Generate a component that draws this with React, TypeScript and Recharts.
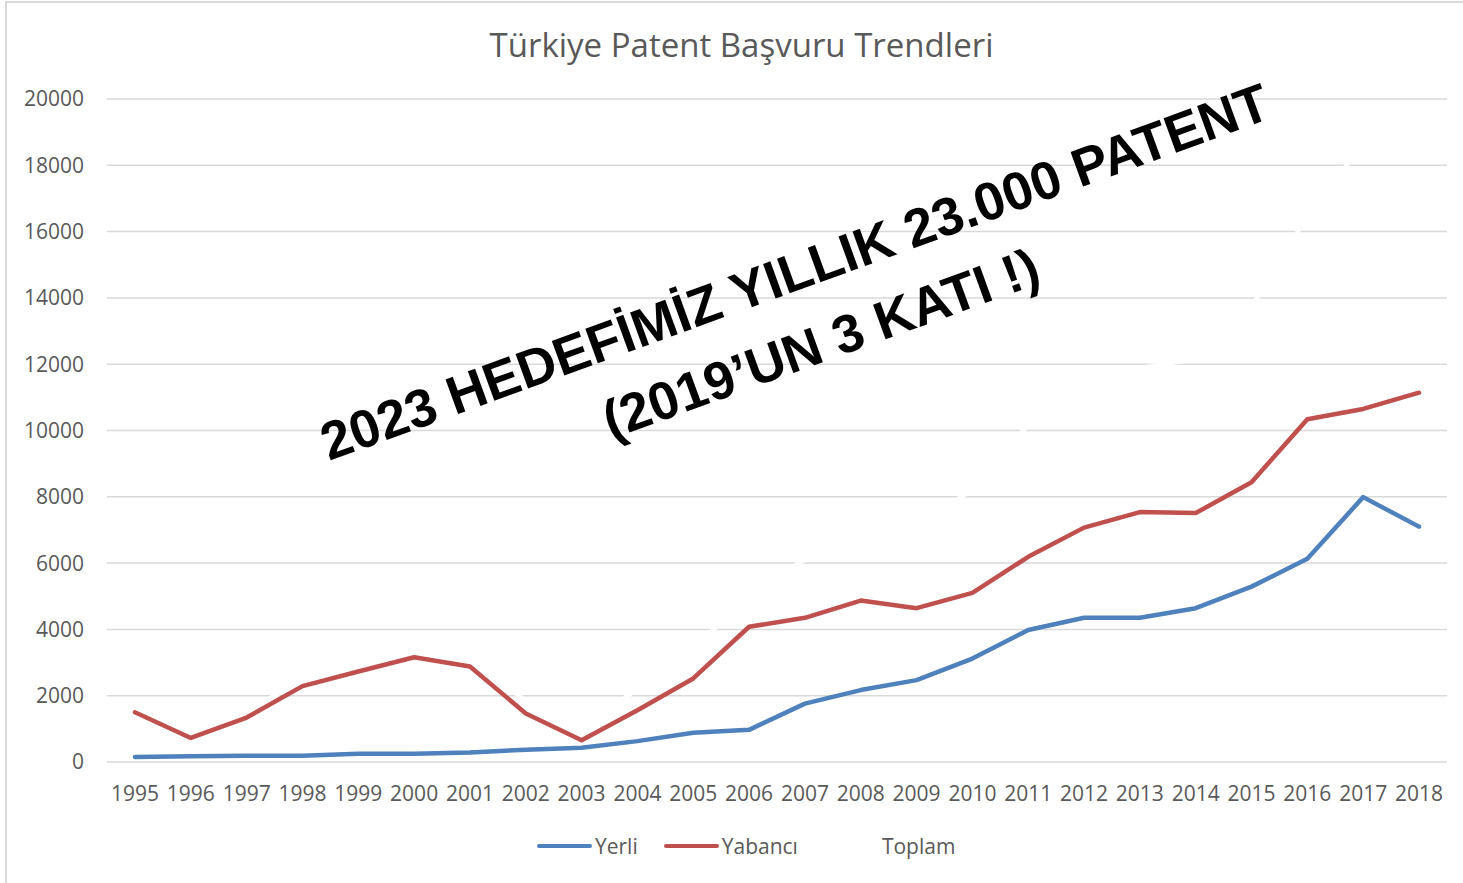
import { LineChart, Line, XAxis, YAxis, CartesianGrid } from "recharts";

// yearly patent applications
const years = [
  "1995", "1996", "1997", "1998", "1999", "2000", "2001", "2002", "2003", "2004", "2005", "2006",
  "2007", "2008", "2009", "2010", "2011", "2012", "2013", "2014", "2015", "2016", "2017", "2018",
];
const yerli = [
  150, 170, 185, 190, 250, 250, 290, 370, 430, 630, 880, 970,
  1760, 2170, 2470, 3120, 3980, 4350, 4350, 4640, 5290, 6130, 7990, 7100,
];
const yabanci = [
  1500, 725, 1340, 2290, 2730, 3160, 2880, 1465, 655, 1560, 2520, 4080,
  4350, 4870, 4640, 5100, 6190, 7070, 7540, 7510, 8440, 10340, 10650, 11140,
];
// Toplam is drawn in white in the original (only visible where it cuts the gridlines)
const toplam = [
  1650, 895, 1525, 2480, 2980, 3410, 3170, 1835, 1085, 2190, 3400, 5050,
  6110, 7040, 7110, 8220, 10170, 11420, 11890, 12150, 13730, 16470, 18640, 18240,
];
const yTicks = [0, 2000, 4000, 6000, 8000, 10000, 12000, 14000, 16000, 18000, 20000];

const chartData = years.map((year, i) => ({
  year,
  Yerli: yerli[i],
  Yabancı: yabanci[i],
  Toplam: toplam[i],
}));

const BLUE = "#4f81bd";
const RED = "#c0504d";
const GREY = "#595959";
const FONT = "'Open Sans', sans-serif";

const legendItems = [
  { name: "Yerli", color: BLUE },
  { name: "Yabancı", color: RED },
  { name: "Toplam", color: "#ffffff" },
];

export default function App() {
  return (
    <div
      style={{
        position: "absolute",
        top: 0,
        left: 0,
        width: 1463,
        height: 883,
        background: "#fff",
        overflow: "hidden",
        fontFamily: FONT,
      }}
    >
      {/* chart frame (only left/top edges show) */}
      <div
        style={{
          position: "absolute",
          left: 5,
          top: 1,
          width: 1500,
          height: 950,
          borderLeft: "2px solid #d9d9d9",
          borderTop: "2px solid #d9d9d9",
        }}
      />

      <div
        style={{
          position: "absolute",
          top: 22,
          left: 10,
          width: 1463,
          textAlign: "center",
          fontSize: 33,
          color: GREY,
          whiteSpace: "nowrap",
        }}
      >
        Türkiye Patent Başvuru Trendleri
      </div>

      <div style={{ position: "absolute", top: 0, left: 0 }}>
        <LineChart
          width={1463}
          height={883}
          data={chartData}
          margin={{ top: 99, right: 16, bottom: 81, left: 7 }}
        >
          <CartesianGrid vertical={false} stroke="#d9d9d9" strokeWidth={1.5} />
          <XAxis
            dataKey="year"
            axisLine={false}
            tickLine={false}
            height={40}
            tickMargin={18}
            padding={{ left: 28, right: 28 }}
            interval={0}
            tick={{ fill: GREY, fontSize: 21, fontFamily: FONT }}
          />
          <YAxis
            domain={[0, 20000]}
            ticks={yTicks}
            axisLine={false}
            tickLine={false}
            width={100}
            tickMargin={17}
            tick={{ fill: GREY, fontSize: 21, fontFamily: FONT }}
          />
          <Line
            dataKey="Yerli"
            stroke={BLUE}
            strokeWidth={4.5}
            strokeLinecap="round"
            strokeLinejoin="round"
            dot={false}
            isAnimationActive={false}
          />
          <Line
            dataKey="Yabancı"
            stroke={RED}
            strokeWidth={4.5}
            strokeLinecap="round"
            strokeLinejoin="round"
            dot={false}
            isAnimationActive={false}
          />
          <Line
            dataKey="Toplam"
            stroke="#ffffff"
            strokeWidth={4.5}
            dot={false}
            isAnimationActive={false}
          />
        </LineChart>
      </div>

      {/* legend */}
      <div
        style={{
          position: "absolute",
          top: 830,
          left: 537,
          display: "flex",
          alignItems: "center",
          height: 32,
          fontSize: 21,
          color: GREY,
        }}
      >
        {legendItems.map((item) => (
          <div key={item.name} style={{ display: "flex", alignItems: "center", marginRight: 26 }}>
            <div
              style={{
                width: 55,
                height: 4,
                borderRadius: 2,
                background: item.color,
                marginRight: 3,
              }}
            />
            <span>{item.name}</span>
          </div>
        ))}
      </div>

      {/* rotated overlay statement */}
      <div
        style={{
          position: "absolute",
          left: 808,
          top: 308,
          transform: "translate(-50%, -50%) rotate(-20deg)",
          fontFamily: "'Liberation Sans', Arial, sans-serif",
          fontWeight: 700,
          fontSize: 53.5,
          lineHeight: "76px",
          color: "#000",
          textAlign: "center",
          whiteSpace: "nowrap",
        }}
      >
        <div>2023 HEDEFİMİZ YILLIK 23.000 PATENT</div>
        <div>(2019’UN 3 KATI !)</div>
      </div>
    </div>
  );
}
